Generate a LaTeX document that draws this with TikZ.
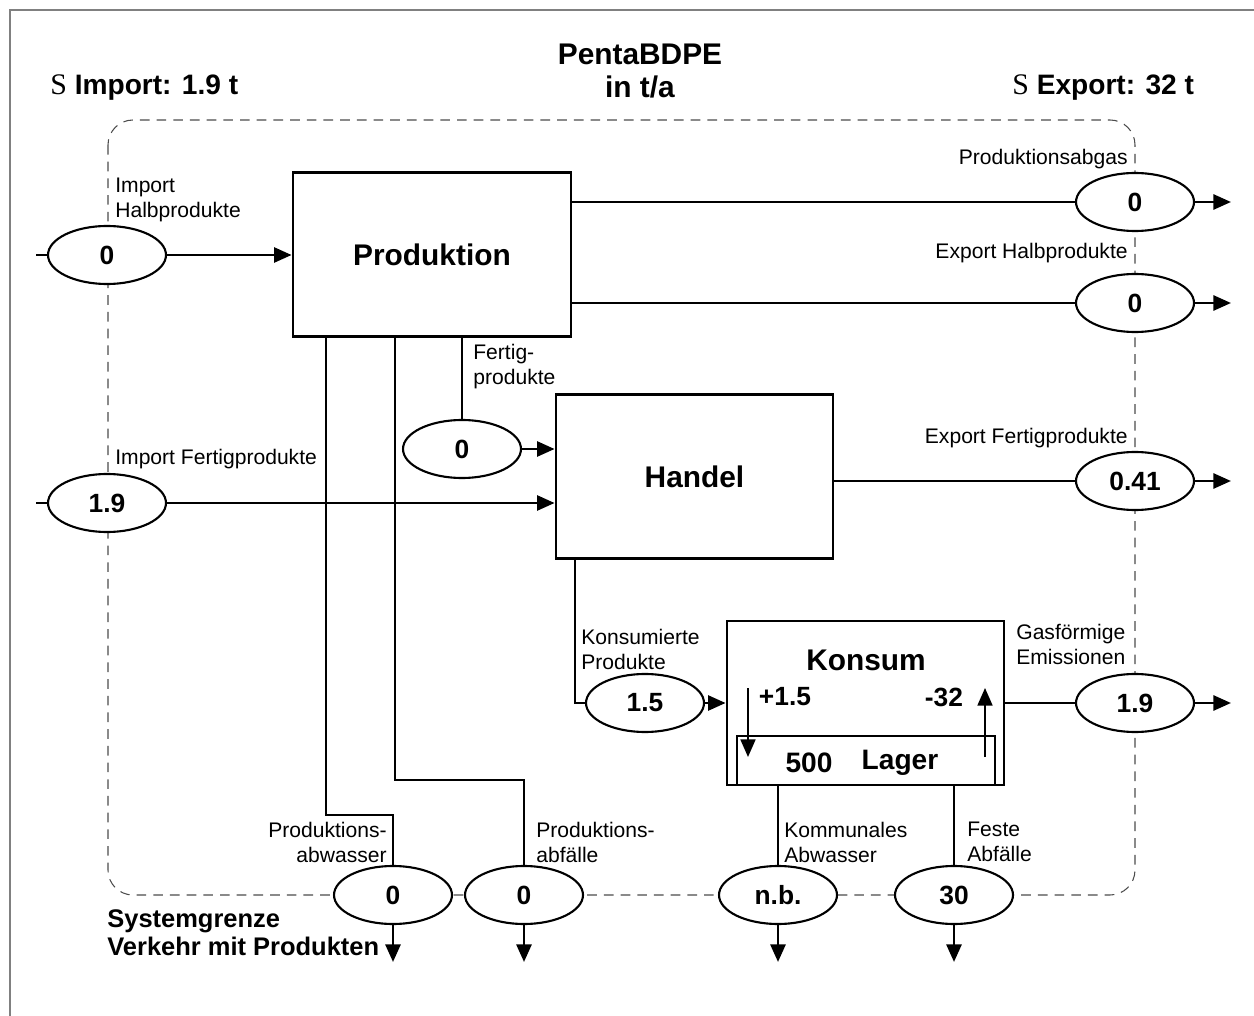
\documentclass[tikz,border=0pt]{standalone}
\usepackage{fontspec}
\setmainfont{Liberation Sans}
\newfontfamily\sigmafont{Liberation Serif}
\usetikzlibrary{shapes.geometric,arrows.meta}

\begin{document}
\begin{tikzpicture}[x=0.02cm,y=-0.02cm,
  box/.style={draw,line width=1.6pt,minimum width=5.56cm,minimum height=3.27cm,
    font=\fontsize{17}{20}\selectfont\bfseries},
  val/.style={ellipse,draw,fill=white,line width=1.2pt,minimum width=2.36cm,
    minimum height=1.16cm,inner sep=0pt,font=\fontsize{15}{18}\selectfont\bfseries},
  lab/.style={inner sep=0pt,align=left,font=\fontsize{12}{14.2}\selectfont},
  big/.style={inner sep=0pt,font=\fontsize{15}{18}\selectfont\bfseries},
  flow/.style={line width=1.6pt},
  tip/.style={line width=1.6pt,-{Triangle[length=10pt,width=8.5pt]}}
]
\useasboundingbox (0,0) rectangle (1254,1016);
\draw[gray,line width=1pt] (10,1016) -- (10,10) -- (1254,10);
% Systemgrenze
\draw[black!70,line width=0.6pt,dash pattern=on 5.5pt off 4pt,rounded corners=0.5cm]
  (108,120) rectangle (1135,895);

% titles
\node[inner sep=0pt,align=center,font=\fontsize{17}{19}\selectfont\bfseries] (title) at (640,71) {PentaBDPE\\in t/a};
\node[inner sep=0pt,anchor=west,font=\fontsize{16}{19}\selectfont\bfseries] (sImport) at (50,88) {{\sigmafont\mdseries\fontsize{17}{19}\selectfont S} Import: 1.9 t};
\node[inner sep=0pt,anchor=west,font=\fontsize{16}{19}\selectfont\bfseries] (sExport) at (1012,88) {{\sigmafont\mdseries\fontsize{17}{19}\selectfont S} Export: 32 t};
\node[lab,anchor=west,font=\fontsize{14.5}{16}\selectfont\bfseries] (lSystem) at (107,933) {Systemgrenze\\Verkehr mit Produkten};

% processes
\node[box] (Produktion) at (432,254.5) {Produktion};
\node[box,minimum width=5.54cm,minimum height=3.28cm] (Handel) at (694.5,476.5) {Handel};
\node[box,minimum width=5.54cm,minimum height=3.28cm] (Konsum) at (865.5,703) {};
\node[big,font=\fontsize{17}{20}\selectfont\bfseries] (KonsumT) at (866,660) {Konsum};
\node[draw,line width=1.1pt,minimum width=5.16cm,minimum height=0.98cm,inner sep=0pt] (Lager) at (866,760.5) {};
\node[big,font=\fontsize{16}{19}\selectfont\bfseries] (LagerN) at (809,763) {500};
\node[big,font=\fontsize{16}{19}\selectfont\bfseries] (LagerT) at (900,763) {Lager};
\node[big] (zu) at (785,697) {+1.5};
\node[big] (ab) at (944,697) {-32};

% flows
\node[val] (eHalbIn) at (107,255) {0};
\node[val] (eFertIn) at (107,503) {1.9};
\node[val] (eFertProd) at (462,449) {0};
\node[val] (eAbgas) at (1135,202) {0};
\node[val] (eHalbOut) at (1135,303) {0};
\node[val] (eFertOut) at (1135,481) {0.41};
\node[val] (eKonsIn) at (645,703) {1.5};
\node[val] (eGas) at (1135,703) {1.9};
\node[val] (eAbwasser) at (393,895) {0};
\node[val] (eAbfall) at (524,895) {0};
\node[val] (eKommAbw) at (778,895) {n.b.};
\node[val] (eFeste) at (954,895) {30};

% labels
\node[lab,anchor=west] (lHalbIn) at (115,200) {Import\\Halbprodukte};
\node[lab,anchor=west] (lFertIn) at (115,459) {Import Fertigprodukte};
\node[lab,anchor=west] (lFertProd) at (473,367) {Fertig-\\produkte};
\node[lab,anchor=east] (lAbgas) at (1128,159) {Produktionsabgas};
\node[lab,anchor=east] (lHalbOut) at (1128,253) {Export Halbprodukte};
\node[lab,anchor=east] (lFertOut) at (1128,438) {Export Fertigprodukte};
\node[lab,anchor=west] (lGas) at (1016,644) {Gasförmige\\Emissionen};
\node[lab,anchor=west] (lKonsIn) at (581,649) {Konsumierte\\Produkte};
\node[lab,anchor=east,align=right] (lAbwasser) at (387,842) {Produktions-\\abwasser};
\node[lab,anchor=west] (lAbfall) at (536,842) {Produktions-\\abfälle};
\node[lab,anchor=west] (lKommAbw) at (784,842) {Kommunales\\Abwasser};
\node[lab,anchor=west] (lFeste) at (967,842) {Feste\\Abfälle};

% free ends
\coordinate (iHalb) at (36,255);
\coordinate (iFert) at (36,503);
\coordinate (oAbgas) at (1231,202);
\coordinate (oHalb) at (1231,303);
\coordinate (oFert) at (1231,481);
\coordinate (oGas) at (1231,703);
\coordinate (oAbw) at (393,962);
\coordinate (oAbf) at (524,962);
\coordinate (oKomm) at (778,962);
\coordinate (oFeste) at (954,962);
\coordinate (pa) at (326,815);
\coordinate (pb) at (395,780);
\coordinate (hk) at (575,558);
\coordinate (zuA) at (748,688);
\coordinate (zuB) at (748,757);
\coordinate (abA) at (985,757);
\coordinate (abB) at (985,688);

\path
  (iHalb) edge[flow] (eHalbIn)
  (iFert) edge[flow] (eFertIn)
  (eHalbIn) edge[tip] (eHalbIn -| Produktion.west)
  (eFertIn) edge[tip] (eFertIn -| Handel.west)
  (eFertProd.north |- Produktion.south) edge[flow] (eFertProd)
  (eFertProd) edge[tip] (eFertProd -| Handel.west)
  (eAbgas -| Produktion.east) edge[flow] (eAbgas)
  (eHalbOut -| Produktion.east) edge[flow] (eHalbOut)
  (eFertOut -| Handel.east) edge[flow] (eFertOut)
  (eKonsIn) edge[tip] (Konsum)
  (Konsum) edge[flow] (eGas)
  (eKommAbw |- Konsum.south) edge[flow] (eKommAbw)
  (eFeste |- Konsum.south) edge[flow] (eFeste)
  (eAbgas) edge[tip] (oAbgas)
  (eHalbOut) edge[tip] (oHalb)
  (eFertOut) edge[tip] (oFert)
  (eGas) edge[tip] (oGas)
  (eAbwasser) edge[tip] (oAbw)
  (eAbfall) edge[tip] (oAbf)
  (eKommAbw) edge[tip] (oKomm)
  (eFeste) edge[tip] (oFeste)
;
\draw[flow] (pa |- Produktion.south) -- (pa) -| (eAbwasser);
\draw[flow] (pb |- Produktion.south) -- (pb) -| (eAbfall);
\draw[flow] (hk) |- (eKonsIn);
\draw[tip,line width=1.1pt] (zuA) -- (zuB);
\draw[tip,line width=1.1pt] (abA) -- (abB);
\end{tikzpicture}
\end{document}
